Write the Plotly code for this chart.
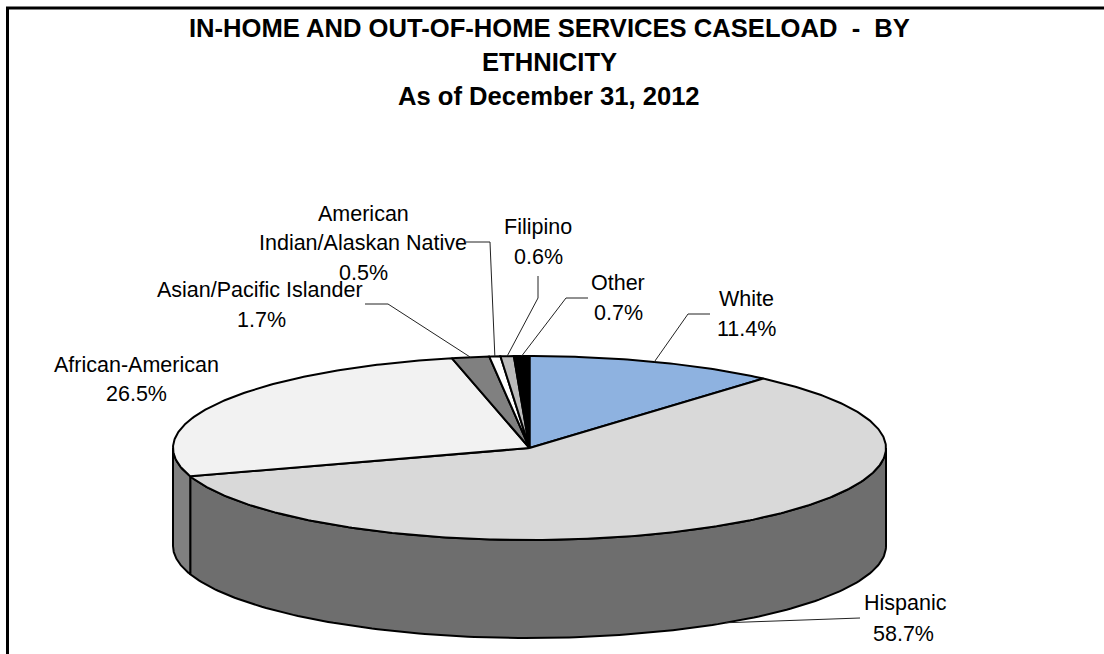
import numpy as np
import plotly.graph_objects as go

# Caseload shares, listed clockwise from twelve o'clock
categories = ["White", "Hispanic", "African-American", "Asian/Pacific Islander",
              "American Indian/Alaskan Native", "Filipino", "Other"]
shares = [11.4, 58.7, 26.5, 1.7, 0.5, 0.6, 0.7]
top_colors = ["#8EB2E0", "#D9D9D9", "#F2F2F2", "#808080", "#FFFFFF", "#BBBBBB", "#000000"]
side_colors = ["#5F7796", "#6E6E6E", "#808080", "#555555", "#AAAAAA", "#7D7D7D", "#000000"]

title_lines = ["IN-HOME AND OUT-OF-HOME SERVICES CASELOAD  -  BY", "ETHNICITY",
               "As of December 31, 2012"]
title_centers = [(549, 28), (549, 62), (549, 96)]

# Label text lines with their centres: name lines first, value last
label_layout = {
    "White": (["White"], [(746, 299), (746, 329)]),
    "Hispanic": (["Hispanic"], [(905, 603), (903, 634)]),
    "African-American": (["African-American"], [(136, 365), (136, 394)]),
    "Asian/Pacific Islander": (["Asian/Pacific Islander"], [(259.5, 290), (261, 320)]),
    "American Indian/Alaskan Native": (["American", "Indian/Alaskan Native"],
                                       [(363, 214), (363, 243), (363, 273)]),
    "Filipino": (["Filipino"], [(538, 227), (538, 257)]),
    "Other": (["Other"], [(618, 283), (618, 313)]),
}
# Elbow and end of each leader line; the start comes from the slice's mid-angle
leader_paths = {
    "White": [(688, 314), (710, 314)],
    "Hispanic": [(860, 618)],
    "Asian/Pacific Islander": [(388, 304), (365, 304)],
    "American Indian/Alaskan Native": [(490, 242), (466, 242)],
    "Filipino": [(538, 298), (538, 276)],
    "Other": [(566, 298), (588, 298)],
}

# Pie geometry in page pixels
CX, CY, RX, RY, DEPTH = 529.5, 448.0, 356.5, 92.0, 98.0


def rim(turn):
    """Point on the top ellipse for a clockwise angle from twelve o'clock, in radians."""
    return CX + RX * np.sin(turn), CY - RY * np.cos(turn)


fractions = np.array(shares) / sum(shares)
edges = np.concatenate([[0.0], np.cumsum(fractions)]) * 2 * np.pi

fig = go.Figure()


def polygon(xs, ys, fill):
    fig.add_trace(go.Scatter(x=xs, y=ys, mode="lines", fill="toself", fillcolor=fill,
                             line=dict(color="#000000", width=2), hoverinfo="skip",
                             showlegend=False))


# Outer wall: only the front half of the rim is visible
for i in range(len(shares)):
    a0, a1 = max(edges[i], np.pi / 2), min(edges[i + 1], 3 * np.pi / 2)
    if a1 <= a0:
        continue
    t = np.linspace(a0, a1, 160)
    x, y = rim(t)
    polygon(np.r_[x, x[::-1], x[0]], np.r_[y, y[::-1] + DEPTH, y[0]], side_colors[i])

# Top face of the pie
for i in range(len(shares)):
    t = np.linspace(edges[i], edges[i + 1], max(8, int(fractions[i] * 600)))
    x, y = rim(t)
    polygon(np.r_[CX, x, CX], np.r_[CY, y, CY], top_colors[i])

# Leader lines from each slice's rim to its label
for i, name in enumerate(categories):
    if name not in leader_paths:
        continue
    mid = (edges[i] + edges[i + 1]) / 2
    sx, sy = rim(mid)
    if np.pi / 2 < mid < 3 * np.pi / 2:
        sy += DEPTH
    xs = [sx] + [p[0] for p in leader_paths[name]]
    ys = [sy] + [p[1] for p in leader_paths[name]]
    fig.add_trace(go.Scatter(x=xs, y=ys, mode="lines", line=dict(color="#222222", width=1),
                             hoverinfo="skip", showlegend=False))

# Chart frame: top and left sides only
fig.add_trace(go.Scatter(x=[7.5, 7.5, 1104], y=[654, 8, 8], mode="lines",
                         line=dict(color="#000000", width=3), hoverinfo="skip",
                         showlegend=False))

annotations = []
for text, (x, y) in zip(title_lines, title_centers):
    annotations.append(dict(x=x, y=y, text=f"<b>{text}</b>", xref="x", yref="y", showarrow=False,
                            xanchor="center", yanchor="middle",
                            font=dict(family="Liberation Sans", size=25.6, color="#000000")))
for name, value in zip(categories, shares):
    lines, centres = label_layout[name]
    for text, (x, y) in zip(lines + [f"{value}%"], centres):
        annotations.append(dict(x=x, y=y, text=text, xref="x", yref="y", showarrow=False,
                                xanchor="center", yanchor="middle",
                                font=dict(family="Liberation Sans", size=21.5, color="#000000")))

fig.update_layout(
    width=1104, height=654, margin=dict(l=0, r=0, t=0, b=0),
    paper_bgcolor="#FFFFFF", plot_bgcolor="#FFFFFF", showlegend=False,
    xaxis=dict(range=[0, 1104], visible=False, fixedrange=True),
    yaxis=dict(range=[654, 0], visible=False, fixedrange=True),
    annotations=annotations,
)
fig.write_html("out.html", config=dict(displayModeBar=False))
